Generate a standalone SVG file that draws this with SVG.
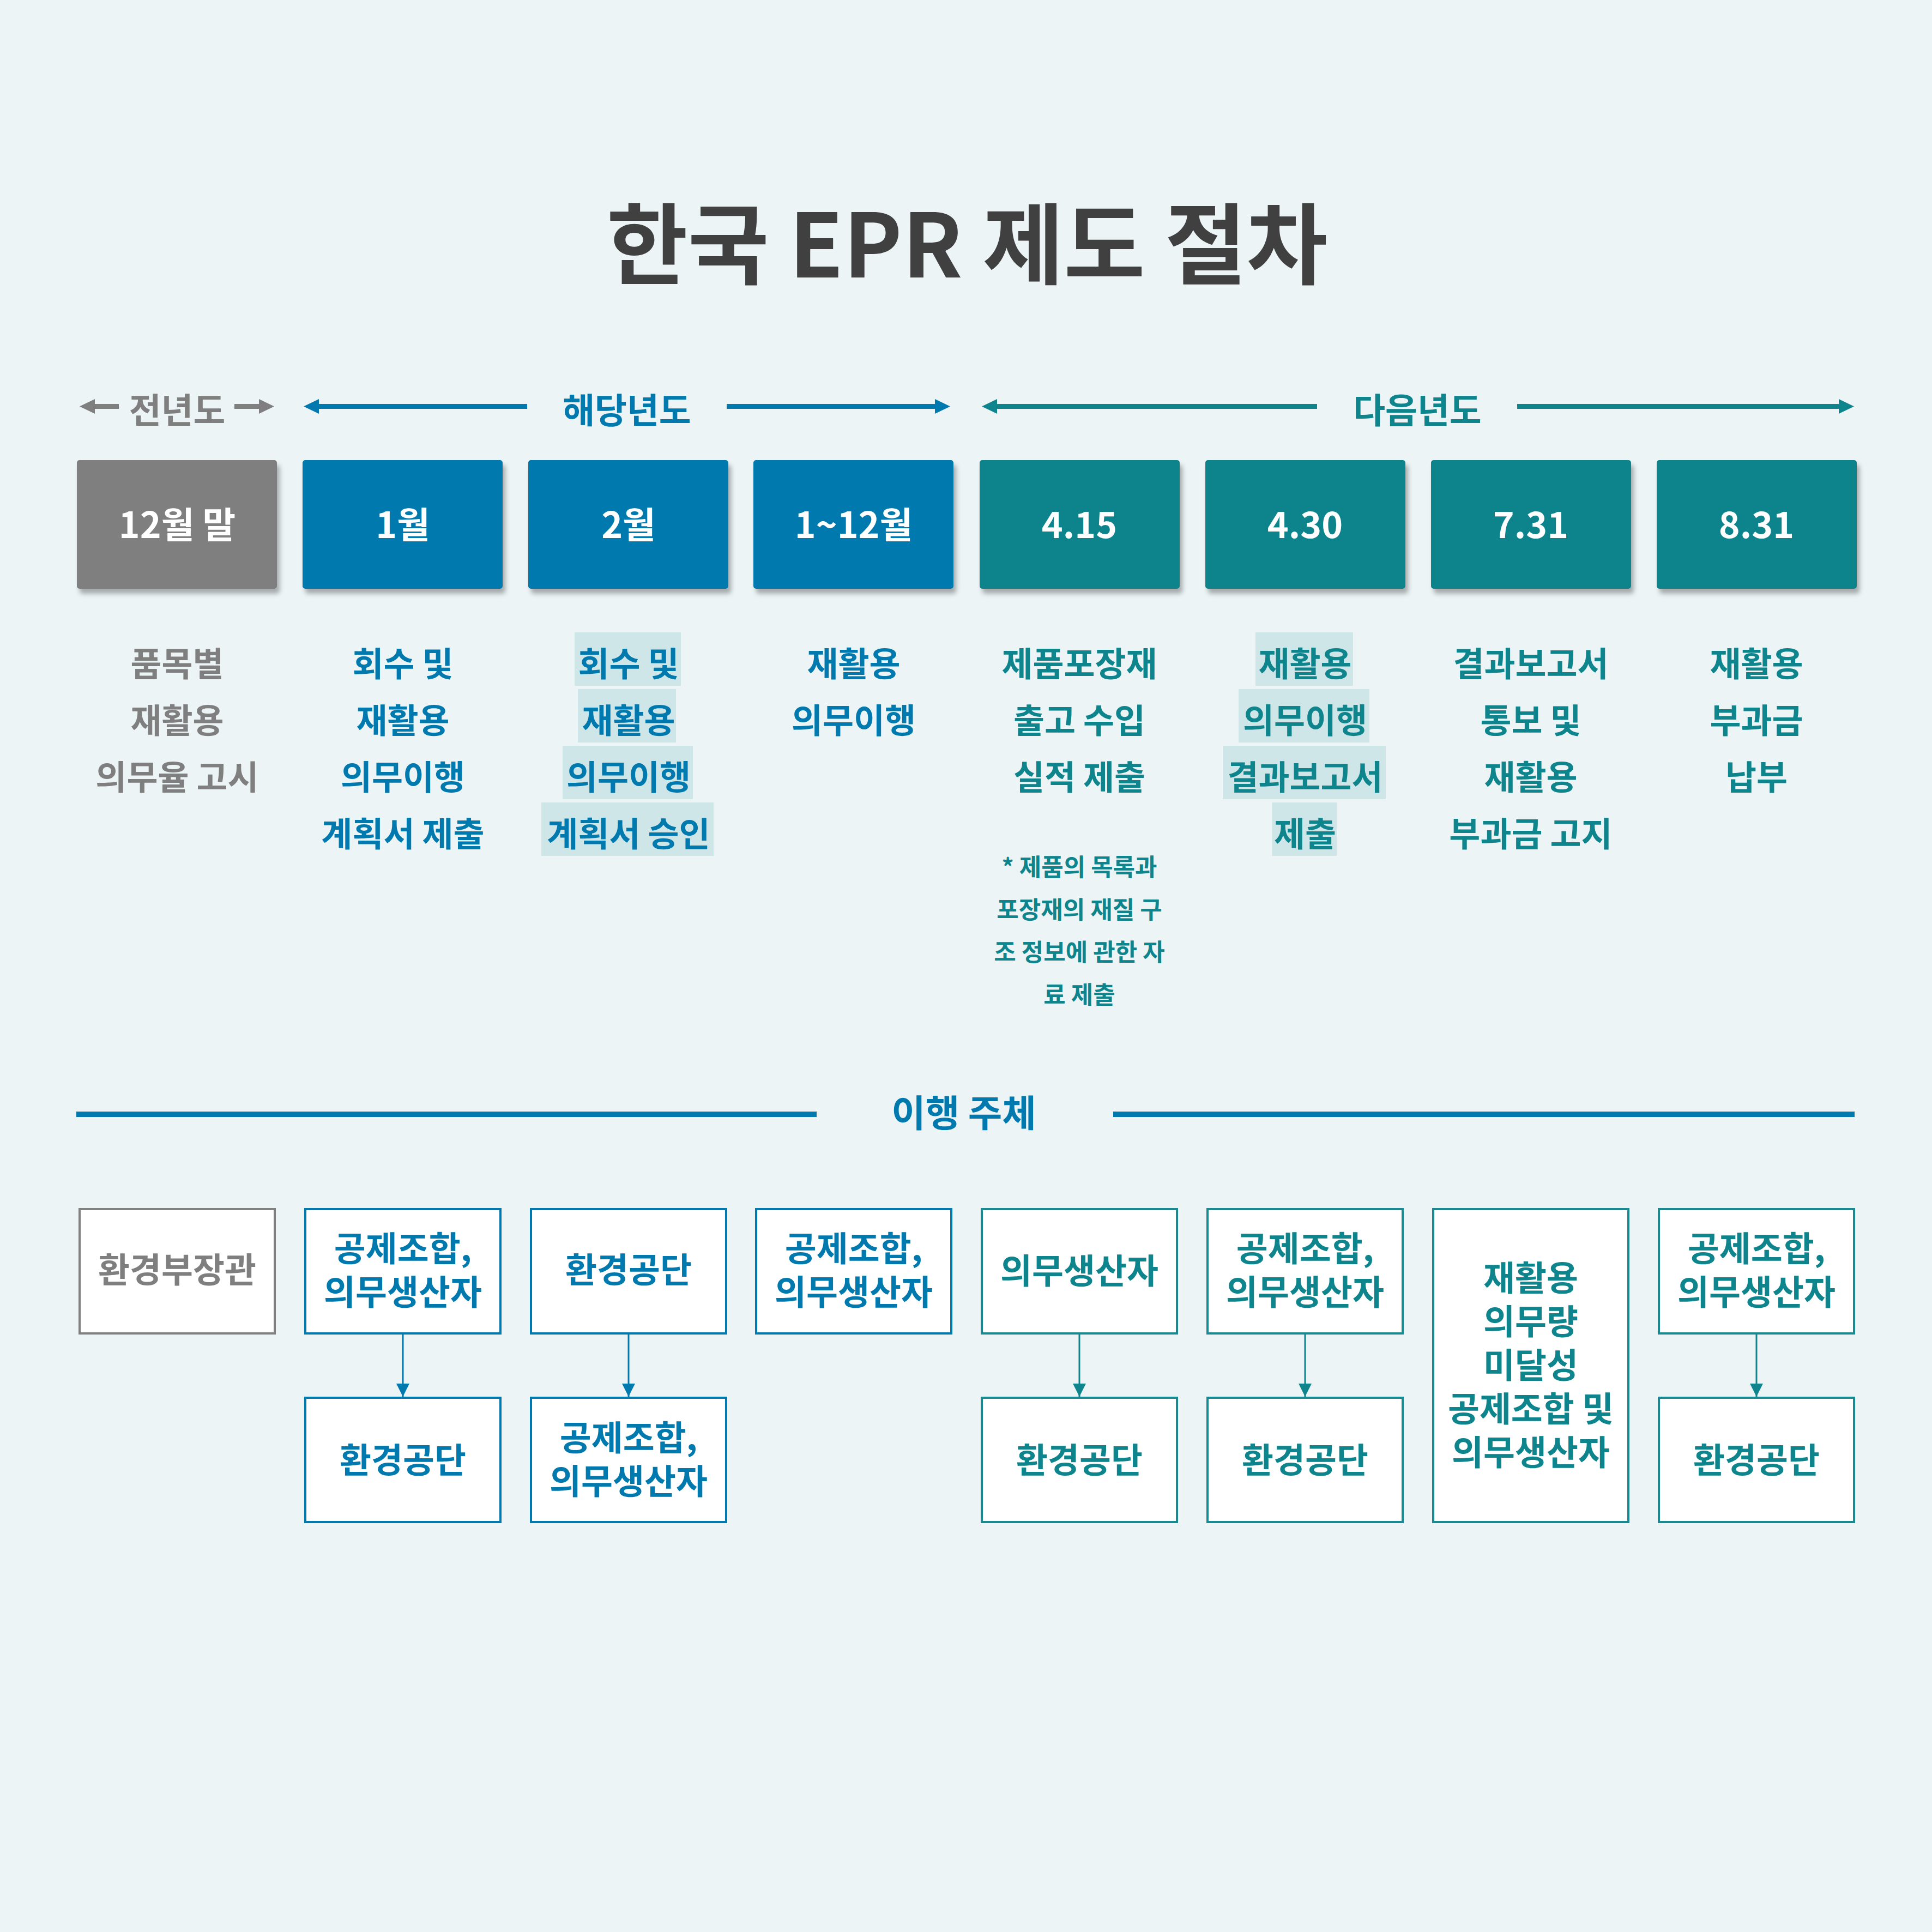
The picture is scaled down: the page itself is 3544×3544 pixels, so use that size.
<svg xmlns="http://www.w3.org/2000/svg" width="3544" height="3544" viewBox="0 0 3544 3544">
<defs>
<style>
text{font-family:"Noto Sans CJK KR","Noto Sans",sans-serif;text-anchor:middle}
.title{font-size:162px;font-weight:700;fill:#404040}
.hdr{font-size:64px;font-weight:700}
.lbl{font-size:66px;font-weight:700;fill:#ffffff}
.desc{font-size:62px;font-weight:700}
.note{font-size:44px;font-weight:700;fill:#0E848C}
.who{font-size:63px;font-weight:700}
.gray{fill:#7F7F7F}
.blue{fill:#0079AE}
.teal{fill:#0E848C}
.hl{fill:#CFE6E8}
.tb{filter:url(#sh)}
.bx{fill:#ffffff;stroke-width:4}
.bxg{stroke:#808080}
.bxb{stroke:#0079AE}
.bxt{stroke:#1A8A92}
.cb{stroke:#0079AE;stroke-width:3;fill:none}
.ct{stroke:#0E848C;stroke-width:3;fill:none}
</style>
<filter id="sh" x="-10%" y="-10%" width="130%" height="130%">
<feDropShadow dx="5" dy="9" stdDeviation="4" flood-color="#000000" flood-opacity="0.3"/>
</filter>
<marker id="mb" viewBox="0 0 24 24" refX="24" refY="12" markerWidth="24" markerHeight="24" orient="auto" markerUnits="userSpaceOnUse"><path d="M0,0 L24,12 L0,24 z" fill="#0079AE"/></marker>
<marker id="mt" viewBox="0 0 24 24" refX="24" refY="12" markerWidth="24" markerHeight="24" orient="auto" markerUnits="userSpaceOnUse"><path d="M0,0 L24,12 L0,24 z" fill="#0E848C"/></marker>
</defs>
<rect width="3544" height="3544" fill="#ECF4F6"/>

<text id="title" class="title" x="1774" y="509">한국 EPR 제도 절차</text>

<g id="period-headers">
<g id="prev-year">
<rect x="170" y="741" width="48" height="9" fill="#7F7F7F"/>
<polygon points="146,745.5 174,732 174,759" fill="#7F7F7F"/>
<rect x="430" y="741" width="46" height="9" fill="#7F7F7F"/>
<polygon points="503,745.5 475,732 475,759" fill="#7F7F7F"/>
<text class="hdr gray" x="325" y="776">전년도</text>
</g>
<g id="this-year">
<rect x="582" y="741" width="385" height="9" fill="#0079AE"/>
<polygon points="557,745.5 585,732 585,759" fill="#0079AE"/>
<rect x="1333" y="741" width="385" height="9" fill="#0079AE"/>
<polygon points="1743,745.5 1715,732 1715,759" fill="#0079AE"/>
<text class="hdr blue" x="1150" y="776">해당년도</text>
</g>
<g id="next-year">
<rect x="1826" y="741" width="590" height="9" fill="#0E848C"/>
<polygon points="1801,745.5 1829,732 1829,759" fill="#0E848C"/>
<rect x="2783" y="741" width="594" height="9" fill="#0E848C"/>
<polygon points="3401,745.5 3373,732 3373,759" fill="#0E848C"/>
<text class="hdr teal" x="2600" y="776">다음년도</text>
</g>
</g>

<g id="timeline">
<g id="t-dec"><rect class="tb" x="141" y="844" width="367" height="236" rx="5" fill="#7F7F7F"/><text class="lbl" x="325" y="987">12월 말</text></g>
<g id="t-jan"><rect class="tb" x="555" y="844" width="367" height="236" rx="5" fill="#0079AE"/><text class="lbl" x="739" y="987">1월</text></g>
<g id="t-feb"><rect class="tb" x="969" y="844" width="367" height="236" rx="5" fill="#0079AE"/><text class="lbl" x="1153" y="987">2월</text></g>
<g id="t-year"><rect class="tb" x="1382" y="844" width="367" height="236" rx="5" fill="#0079AE"/><text class="lbl" x="1566" y="987">1~12월</text></g>
<g id="t-415"><rect class="tb" x="1797" y="844" width="367" height="236" rx="5" fill="#0E848C"/><text class="lbl" x="1980" y="987">4.15</text></g>
<g id="t-430"><rect class="tb" x="2211" y="844" width="367" height="236" rx="5" fill="#0E848C"/><text class="lbl" x="2394" y="987">4.30</text></g>
<g id="t-731"><rect class="tb" x="2625" y="844" width="367" height="236" rx="5" fill="#0E848C"/><text class="lbl" x="2808" y="987">7.31</text></g>
<g id="t-831"><rect class="tb" x="3039" y="844" width="367" height="236" rx="5" fill="#0E848C"/><text class="lbl" x="3222" y="987">8.31</text></g>
</g>

<g id="descriptions">
<g id="d-dec" class="desc gray">
<text x="325" y="1241">품목별</text>
<text x="325" y="1345">재활용</text>
<text x="325" y="1449">의무율 고시</text>
</g>
<g id="d-jan" class="desc blue">
<text x="739" y="1241">회수 및</text>
<text x="739" y="1345">재활용</text>
<text x="739" y="1449">의무이행</text>
<text x="739" y="1553">계획서 제출</text>
</g>
<g id="d-feb">
<rect class="hl" x="1054" y="1160" width="195" height="98"/>
<rect class="hl" x="1060" y="1264" width="180" height="98"/>
<rect class="hl" x="1032" y="1368" width="239" height="98"/>
<rect class="hl" x="993" y="1472" width="316" height="98"/>
<g class="desc blue">
<text x="1153" y="1241">회수 및</text>
<text x="1153" y="1345">재활용</text>
<text x="1153" y="1449">의무이행</text>
<text x="1153" y="1553">계획서 승인</text>
</g>
</g>
<g id="d-year" class="desc blue">
<text x="1566" y="1241">재활용</text>
<text x="1566" y="1345">의무이행</text>
</g>
<g id="d-415">
<g class="desc teal">
<text x="1980" y="1241">제품포장재</text>
<text x="1980" y="1345">출고 수입</text>
<text x="1980" y="1449">실적 제출</text>
</g>
<g class="note">
<text x="1980" y="1607">* 제품의 목록과</text>
<text x="1980" y="1685">포장재의 재질 구</text>
<text x="1980" y="1763">조 정보에 관한 자</text>
<text x="1980" y="1841">료 제출</text>
</g>
</g>
<g id="d-430">
<rect class="hl" x="2303" y="1160" width="179" height="98"/>
<rect class="hl" x="2272" y="1264" width="240" height="98"/>
<rect class="hl" x="2243" y="1368" width="299" height="98"/>
<rect class="hl" x="2333" y="1472" width="119" height="98"/>
<g class="desc teal">
<text x="2394" y="1241">재활용</text>
<text x="2394" y="1345">의무이행</text>
<text x="2394" y="1449">결과보고서</text>
<text x="2394" y="1553">제출</text>
</g>
</g>
<g id="d-731" class="desc teal">
<text x="2808" y="1241">결과보고서</text>
<text x="2808" y="1345">통보 및</text>
<text x="2808" y="1449">재활용</text>
<text x="2808" y="1553">부과금 고지</text>
</g>
<g id="d-831" class="desc teal">
<text x="3222" y="1241">재활용</text>
<text x="3222" y="1345">부과금</text>
<text x="3222" y="1449">납부</text>
</g>
</g>

<g id="actors-header">
<rect x="140" y="2039" width="1358" height="10" fill="#0079AE"/>
<rect x="2042" y="2039" width="1360" height="10" fill="#0079AE"/>
<text class="hdr blue" x="1768" y="2067" style="font-size:68px">이행 주체</text>
</g>

<g id="connectors">
<line class="cb" x1="739" y1="2446" x2="739" y2="2562" marker-end="url(#mb)"/>
<line class="cb" x1="1153" y1="2446" x2="1153" y2="2562" marker-end="url(#mb)"/>
<line class="ct" x1="1980" y1="2446" x2="1980" y2="2562" marker-end="url(#mt)"/>
<line class="ct" x1="2394" y1="2446" x2="2394" y2="2562" marker-end="url(#mt)"/>
<line class="ct" x1="3222" y1="2446" x2="3222" y2="2562" marker-end="url(#mt)"/>
</g>

<g id="a-dec"><rect class="bx bxg" x="146" y="2218" width="358" height="228"/><text class="who gray" x="325" y="2352">환경부장관</text></g>
<g id="a-jan"><rect class="bx bxb" x="560" y="2218" width="358" height="228"/><text class="who blue" x="739" y="2313">공제조합,</text><text class="who blue" x="739" y="2393">의무생산자</text></g>
<g id="a-jan-2"><rect class="bx bxb" x="560" y="2564" width="358" height="228"/><text class="who blue" x="739" y="2701">환경공단</text></g>
<g id="a-feb"><rect class="bx bxb" x="974" y="2218" width="358" height="228"/><text class="who blue" x="1153" y="2352">환경공단</text></g>
<g id="a-feb-2"><rect class="bx bxb" x="974" y="2564" width="358" height="228"/><text class="who blue" x="1153" y="2660">공제조합,</text><text class="who blue" x="1153" y="2740">의무생산자</text></g>
<g id="a-year"><rect class="bx bxb" x="1387" y="2218" width="358" height="228"/><text class="who blue" x="1566" y="2313">공제조합,</text><text class="who blue" x="1566" y="2393">의무생산자</text></g>
<g id="a-415"><rect class="bx bxt" x="1801" y="2218" width="358" height="228"/><text class="who teal" x="1980" y="2354">의무생산자</text></g>
<g id="a-415-2"><rect class="bx bxt" x="1801" y="2564" width="358" height="228"/><text class="who teal" x="1980" y="2701">환경공단</text></g>
<g id="a-430"><rect class="bx bxt" x="2215" y="2218" width="358" height="228"/><text class="who teal" x="2394" y="2313">공제조합,</text><text class="who teal" x="2394" y="2393">의무생산자</text></g>
<g id="a-430-2"><rect class="bx bxt" x="2215" y="2564" width="358" height="228"/><text class="who teal" x="2394" y="2701">환경공단</text></g>
<g id="a-731"><rect class="bx bxt" x="2629" y="2218" width="358" height="574"/>
<text class="who teal" x="2808" y="2367">재활용</text>
<text class="who teal" x="2808" y="2447">의무량</text>
<text class="who teal" x="2808" y="2527">미달성</text>
<text class="who teal" x="2808" y="2607">공제조합 및</text>
<text class="who teal" x="2808" y="2687">의무생산자</text>
</g>
<g id="a-831"><rect class="bx bxt" x="3043" y="2218" width="358" height="228"/><text class="who teal" x="3222" y="2313">공제조합,</text><text class="who teal" x="3222" y="2393">의무생산자</text></g>
<g id="a-831-2"><rect class="bx bxt" x="3043" y="2564" width="358" height="228"/><text class="who teal" x="3222" y="2701">환경공단</text></g>
</svg>
